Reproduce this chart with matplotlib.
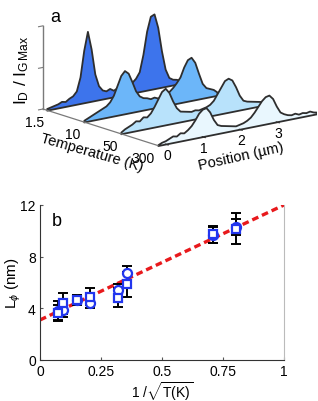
import numpy as np
import matplotlib
matplotlib.use("Agg")
import matplotlib.pyplot as plt
from mpl_toolkits.mplot3d import proj3d
from mpl_toolkits.mplot3d.art3d import Poly3DCollection

plt.rcParams['font.family'] = ['Liberation Sans', 'DejaVu Sans']
plt.rcParams['mathtext.fontset'] = 'custom'
plt.rcParams['mathtext.rm'] = 'Liberation Sans'
plt.rcParams['mathtext.it'] = 'Liberation Sans:italic'

# ---- panel a: D/G ratio along the ribbon, one trace per temperature
temperatures = ['1.5', '10', '50', '300']
position = [-0.2, -0.1, 0.0, 0.1, 0.2, 0.3, 0.4, 0.5, 0.6, 0.7, 0.8, 0.9, 1.0,
            1.1, 1.2, 1.3, 1.4, 1.5, 1.6, 1.7, 1.8, 1.9, 2.0, 2.1, 2.2, 2.3,
            2.4, 2.5, 2.6, 2.7, 2.8, 2.9, 3.0, 3.1, 3.2, 3.3, 3.4, 3.5, 3.6,
            3.7, 3.8, 3.9, 4.0, 4.1]
ratio_1p5K = [0.02, 0.03, 0.04, 0.05, 0.07, 0.06, 0.09, 0.11, 0.16, 0.32, 0.63,
              0.85, 0.63, 0.32, 0.17, 0.11, 0.09, 0.11, 0.08, 0.10, 0.09, 0.12,
              0.10, 0.13, 0.17, 0.24, 0.44, 0.71, 0.88, 0.90, 0.73, 0.44, 0.21,
              0.10, 0.07, 0.06, 0.04, 0.08]
ratio_10K = [0.02, 0.04, 0.06, 0.08, 0.10, 0.12, 0.14, 0.18, 0.25, 0.36, 0.47,
             0.52, 0.48, 0.37, 0.25, 0.18, 0.15, 0.14, 0.12, 0.13, 0.11, 0.12,
             0.13, 0.16, 0.20, 0.25, 0.31, 0.42, 0.50, 0.52, 0.45, 0.31, 0.18,
             0.12, 0.10, 0.08, 0.04]
ratio_50K = [0.02, 0.05, 0.07, 0.09, 0.12, 0.11, 0.15, 0.14, 0.18, 0.25, 0.33,
             0.41, 0.44, 0.38, 0.27, 0.18, 0.13, 0.12, 0.11, 0.10, 0.11, 0.10,
             0.11, 0.12, 0.14, 0.18, 0.25, 0.32, 0.39, 0.41, 0.38, 0.29, 0.18,
             0.11, 0.09, 0.08, 0.07, 0.06, 0.05, 0.04]
ratio_300K = [0.01, 0.03, 0.04, 0.06, 0.08, 0.07, 0.10, 0.09, 0.12, 0.16, 0.22,
              0.29, 0.33, 0.34, 0.28, 0.18, 0.11, 0.09, 0.08, 0.07, 0.06, 0.05,
              0.06, 0.07, 0.09, 0.12, 0.17, 0.23, 0.29, 0.33, 0.34, 0.29, 0.19,
              0.11, 0.08, 0.06, 0.05, 0.06, 0.04, 0.05, 0.04, 0.05, 0.03, 0.02]
traces = [ratio_1p5K, ratio_10K, ratio_50K, ratio_300K]
row_colors = ['#3d74ec', '#6cb6f9', '#b8e2fb', '#e9f7fe']
pos_ticks = [0, 1, 2, 3]
z_ticks = [0, 0.5, 1]

# ---- panel b: dephasing length
inv_sqrt_T = [0.075, 0.093, 0.153, 0.205, 0.32, 0.355, 0.71, 0.805]
L_circle = [3.80, 3.87, 4.65, 4.44, 5.42, 6.76, 9.68, 10.30]
L_circle_err = [0.75, 0.55, 0.35, 0.45, 0.50, 0.55, 0.60, 0.60]
L_square = [3.66, 4.39, 4.65, 4.90, 4.83, 5.86, 9.73, 10.17]
L_square_err = [0.60, 0.80, 0.40, 0.65, 0.75, 0.95, 0.65, 1.20]
fit_x = [0.0, 1.0]
fit_y = [3.1, 12.0]

W, H = 318, 402
fig = plt.figure(figsize=(W / 100, H / 100), dpi=100)

# ---------------- 3D waterfall ----------------
ax3 = fig.add_axes([0.0, 0.5, 1.0, 0.5], projection='3d', proj_type='ortho')
ax3.view_init(elev=14.6, azim=-128.4)
ax3.set_xlim(-0.2, 4.1)
ax3.set_ylim(0, 3.1)
ax3.set_zlim(0, 1)
ax3.set_box_aspect((4.3 * 46.7, 3.1 * 59, 85))
ax3.set_axis_off()

n_rows = len(temperatures)
for i, (vals, col) in enumerate(zip(traces, row_colors)):
    yrow = n_rows - 1 - i
    xs = position[:len(vals)]
    verts = [(xs[0], yrow, 0)] + [(x, yrow, v) for x, v in zip(xs, vals)] + [(xs[-1], yrow, 0)]
    poly = Poly3DCollection([verts], facecolor=col, edgecolor='#2e2e2e', linewidth=1.3)
    ax3.add_collection3d(poly)

gray = '#7a7a7a'
ax3.plot([-0.2, -0.2], [3.1, 3.1], [0, 1], color=gray, lw=1.0, zorder=1)
for z in z_ticks:
    ax3.plot([-0.2, -0.32], [3.1, 3.1], [z, z], color=gray, lw=0.8, zorder=1)
ax3.plot([-0.2, -0.2], [3.1, 0], [0, 0], color=gray, lw=0.9, zorder=20)
for p in pos_ticks:
    ax3.plot([p, p], [0, -0.08], [0, 0], color='#2e2e2e', lw=0.8, zorder=20)


def to_px(x, y, z):
    px, py, _ = proj3d.proj_transform(np.array([x]), np.array([y]), np.array([z]), ax3.get_proj())
    return ax3.transData.transform((px[0], py[0]))


# fit the projected box onto the panel area
fig.canvas.draw()
a_now = to_px(-0.2, 3.1, 0)
f_now = to_px(4.1, 0, 0)
bb = ax3.get_position().transformed(fig.transFigure)
S = bb.width
c = np.array([bb.x0 + bb.width / 2, bb.y0 + bb.height / 2])
s = (317 - 43) / (f_now[0] - a_now[0])
uA = (a_now - c) / S
S2 = S * s
c2 = np.array([43, H - 110]) - S2 * uA
ax3.set_position([(c2[0] - S2 / 2) / W, (c2[1] - S2 / 2) / H, S2 / W, S2 / H])
fig.canvas.draw()

# tick labels of the 3D panel, placed from the projected data points
for i, t in enumerate(temperatures):
    yrow = n_rows - 1 - i
    px, py = to_px(-0.2, yrow, 0)
    fig.text((px - 3) / W, (py - 5) / H, t, ha='right', va='top', fontsize=10)
for p in pos_ticks:
    px, py = to_px(p, 0, 0)
    fig.text((px + 2) / W, (py - 11) / H, str(p), ha='center', va='center', fontsize=10)

fig.text(55 / W, 1 - 18 / H, 'a', fontsize=13, ha='center', va='center')
fig.text(22 / W, 1 - 70 / H, r'I$_\mathrm{D}$ / I$_\mathrm{G\,Max}$', rotation=90,
         fontsize=12.5, ha='center', va='center')
fig.text(92 / W, 1 - 153 / H, 'Temperature (K)', rotation=-16, fontsize=10.5,
         ha='center', va='center', rotation_mode='anchor')
fig.text(241 / W, 1 - 157 / H, 'Position (\u00b5m)', rotation=12.5, fontsize=10.5,
         ha='center', va='center', rotation_mode='anchor')

# ---------------- panel b ----------------
ax = fig.add_axes([40 / W, 41 / H, 244 / W, 155 / H])
blue = '#2236ee'
ax.plot(fit_x, fit_y, color='#e8191c', lw=2.4, dashes=(2, 1.2), zorder=1)
ax.errorbar(inv_sqrt_T, L_circle, yerr=L_circle_err, fmt='none', ecolor='black',
            elinewidth=1.4, capsize=3.5, capthick=1.4, zorder=2)
ax.errorbar(inv_sqrt_T, L_square, yerr=L_square_err, fmt='none', ecolor='black',
            elinewidth=1.4, capsize=3.5, capthick=1.4, zorder=2)
ax.plot(inv_sqrt_T, L_circle, 'o', ms=6.5, mfc='white', mec=blue, mew=1.6, zorder=3)
ax.plot(inv_sqrt_T, L_square, 's', ms=6, mfc='white', mec=blue, mew=1.6, zorder=4)

ax.set_xlim(0, 1)
ax.set_ylim(0, 12)
ax.set_xticks([0, 0.25, 0.5, 0.75, 1])
ax.set_xticklabels(['0', '0.25', '0.5', '0.75', '1'])
ax.set_yticks([0, 4, 8, 12])
ax.tick_params(direction='in', length=2.5, width=0.8, labelsize=10, pad=3, color='#555555')
ax.spines['top'].set_visible(False)
ax.spines['right'].set_color('#bbbbbb')
ax.spines['left'].set_color('#333333')
ax.spines['bottom'].set_color('#333333')
ax.set_ylabel(r'L$_\phi$ (nm)', fontsize=11, va='center')
ax.yaxis.set_label_coords(-0.11, 0.5)
ax.set_xlabel(r'1 /$\sqrt{\mathrm{T(K)}}$', fontsize=10, va='center')
ax.xaxis.set_label_coords(0.5, -0.2)
ax.text(0.07, 0.9, 'b', transform=ax.transAxes, fontsize=13, ha='center', va='center')

fig.savefig('out.png', dpi=100)
